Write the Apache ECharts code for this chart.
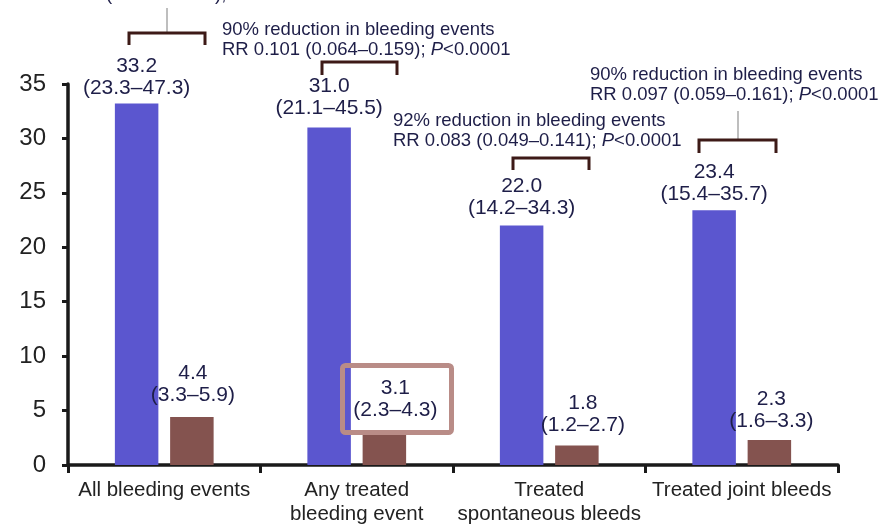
<!DOCTYPE html>
<html>
<head>
<meta charset="utf-8">
<script src="https://cdn.jsdelivr.net/npm/echarts@6/dist/echarts.min.js"></script>
<style>
html,body{margin:0;padding:0;background:#fff;}
#chart{width:882px;height:526px;}
</style>
</head>
<body>
<div id="chart"></div>
<script>
// ---- data ----
const categories = ['All bleeding events', 'Any treated\nbleeding event', 'Treated\nspontaneous bleeds', 'Treated joint bleeds'];
const noProphylaxis = [33.2, 31.0, 22.0, 23.4];
const noProphylaxisLow = [23.3, 21.1, 14.2, 15.4];
const noProphylaxisHigh = [47.3, 45.5, 34.3, 35.7];
const prophylaxis = [4.4, 3.1, 1.8, 2.3];
const prophylaxisLow = [3.3, 2.3, 1.2, 1.6];
const prophylaxisHigh = [5.9, 4.3, 2.7, 3.3];
const yTicks = [0, 5, 10, 15, 20, 25, 30, 35];
const annotations = [
  ['87% reduction in bleeding events', 'RR 0.133 (0.089\u20130.197); '],
  ['90% reduction in bleeding events', 'RR 0.101 (0.064\u20130.159); '],
  ['92% reduction in bleeding events', 'RR 0.083 (0.049\u20130.141); '],
  ['90% reduction in bleeding events', 'RR 0.097 (0.059\u20130.161); ']
];

// ---- style ----
const FONT = 'Liberation Sans, Arial, sans-serif';
const BLUE = '#5b56cf';
const BROWN = '#84534f';
const TXT = '#1e1e48';
const BRK = '#3d1a17';
const blueDist = [4, 8, 6, 5];
const brownDist = [11, 10, 9, 8];
const brownDx = [1, 11, 6, 2];

function fmtLabel(v, lo, hi) {
  return v.toFixed(1) + '\n(' + lo.toFixed(1) + '\u2013' + hi.toFixed(1) + ')';
}
const labelBase = {show: true, position: 'top', color: TXT, fontFamily: FONT, fontSize: 21, lineHeight: 22};

const blueData = noProphylaxis.map((v, i) => ({
  value: v,
  label: Object.assign({}, labelBase, {distance: blueDist[i], formatter: fmtLabel(v, noProphylaxisLow[i], noProphylaxisHigh[i])})
}));
const brownData = prophylaxis.map((v, i) => ({
  value: v,
  label: Object.assign({}, labelBase, {distance: brownDist[i], offset: [brownDx[i], 0], formatter: fmtLabel(v, prophylaxisLow[i], prophylaxisHigh[i])})
}));

function annText(lines, x, y, align) {
  return {
    type: 'text', x: x, y: y, z: 10,
    style: {
      text: '{n|' + lines[0] + '}\n{n|' + lines[1] + '}{i|P}{n|<0.0001}',
      align: align, verticalAlign: 'middle',
      rich: {
        n: {fontFamily: FONT, fontSize: 18.5, fill: TXT, lineHeight: 20},
        i: {fontFamily: FONT, fontSize: 18.5, fill: TXT, lineHeight: 20, fontStyle: 'italic'}
      }
    }
  };
}
function bracket(x1, x2, yTop, yEnd) {
  return {
    type: 'polyline', z: 10,
    shape: {points: [[x1, yEnd], [x1, yTop], [x2, yTop], [x2, yEnd]]},
    style: {stroke: BRK, lineWidth: 3, fill: null}
  };
}
function greyLine(x, y1, y2) {
  return {type: 'line', z: 9, shape: {x1: x, y1: y1, x2: x, y2: y2}, style: {stroke: '#a8a8a8', lineWidth: 1.5}};
}

const chart = echarts.init(document.getElementById('chart'));
chart.setOption({
  animation: false,
  backgroundColor: '#fff',
  grid: {left: 68, right: 44, top: 84, bottom: 58, containLabel: false},
  xAxis: {
    type: 'category',
    data: categories,
    axisLine: {lineStyle: {color: '#1a1a1a', width: 3.5}},
    axisTick: {show: true, length: 8, lineStyle: {color: '#1a1a1a', width: 3}},
    axisLabel: {color: '#222', fontFamily: FONT, fontSize: 20.5, lineHeight: 24, margin: 13, interval: 0}
  },
  yAxis: {
    type: 'value', min: 0, max: 35, interval: 5,
    axisLine: {show: true, lineStyle: {color: '#1a1a1a', width: 3.5}},
    axisTick: {show: true, length: 6, lineStyle: {color: '#1a1a1a', width: 3}},
    splitLine: {show: false},
    axisLabel: {color: '#222', fontFamily: FONT, fontSize: 24, margin: 22,
      formatter: v => (yTicks.indexOf(v) >= 0 ? String(v) : '')}
  },
  series: [
    {name: 'No prophylaxis', type: 'bar', data: blueData, barWidth: 43.5, barGap: '27%', itemStyle: {color: BLUE}},
    {name: 'Prophylaxis', type: 'bar', data: brownData, barWidth: 43.5, itemStyle: {color: BROWN}}
  ],
  graphic: [
    annText(annotations[0], 167, -15.5, 'center'),
    greyLine(167, 8, 33),
    bracket(129, 205, 33, 45),
    annText(annotations[1], 222, 39.5, 'left'),
    bracket(322, 397, 62, 75),
    annText(annotations[2], 393, 131, 'left'),
    bracket(513, 589, 158, 170),
    annText(annotations[3], 590, 85, 'left'),
    greyLine(738, 111, 140),
    bracket(699, 776, 140, 153),
    {type: 'rect', z: 10, shape: {x: 342.5, y: 365.5, width: 109, height: 67, r: 3},
     style: {stroke: '#b98c87', lineWidth: 5, fill: null}}
  ]
});
</script>
</body>
</html>
